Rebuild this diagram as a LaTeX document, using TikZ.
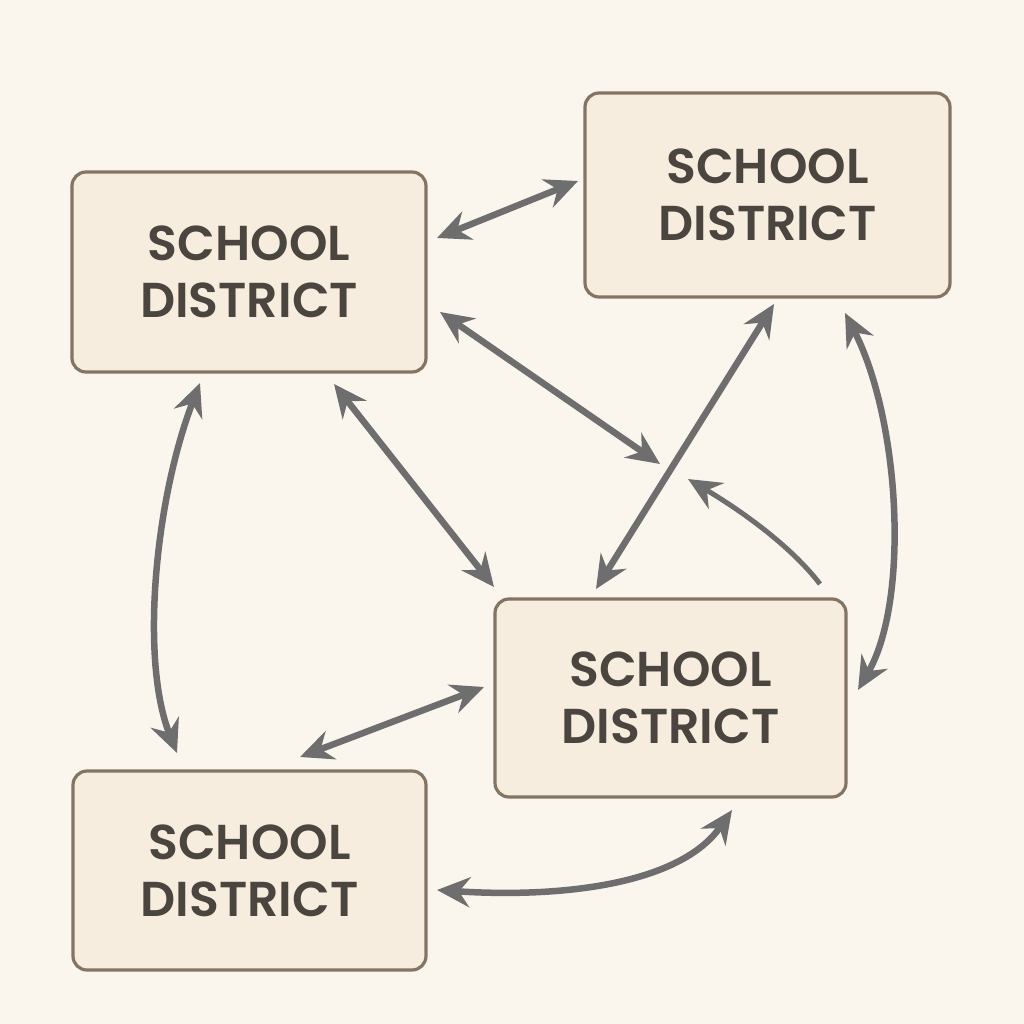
\documentclass[tikz,border=0pt]{standalone}
\usepackage{fontspec}
\newfontfamily\lab{Poppins}[UprightFont={* SemiBold}]
\usetikzlibrary{arrows.meta}
\definecolor{bgc}{HTML}{FAF6EE}
\definecolor{boxfill}{HTML}{F6EDDF}
\definecolor{boxline}{HTML}{847463}
\definecolor{txtc}{HTML}{4A453F}
\definecolor{arrowc}{HTML}{6E6E6E}
\tikzset{
  box/.style={draw=boxline, line width=3.2pt, fill=boxfill, rounded corners=14pt,
    align=center, text=txtc, font=\lab\fontsize{49}{57}\selectfont, inner sep=0pt},
  arr/.style={draw=arrowc, line width=6.5pt, {Stealth[length=33pt,width=30pt,inset=11pt]}-{Stealth[length=33pt,width=30pt,inset=11pt]}},
  arrone/.style={draw=arrowc, line width=5pt, -{Stealth[length=33pt,width=30pt,inset=11pt]}}
}
\begin{document}
\begin{tikzpicture}[x=1pt,y=-1pt]
\fill[bgc] (0,0) rectangle (1024,1024);
\useasboundingbox (0,0) rectangle (1024,1024);
% boxes
\node[box, minimum width=354pt, minimum height=200pt] (A) at (249,272) {SCHOOL\\DISTRICT};
\node[box, minimum width=365pt, minimum height=204pt] (B) at (767.5,195) {SCHOOL\\DISTRICT};
\node[box, minimum width=351pt, minimum height=198pt] (C) at (670.5,698) {SCHOOL\\DISTRICT};
\node[box, minimum width=353pt, minimum height=199pt] (D) at (249.5,870.5) {SCHOOL\\DISTRICT};
% endpoints
\coordinate (a1) at (437,238); \coordinate (b1) at (578,181);
\coordinate (a2) at (440,312); \coordinate (m2) at (660,464);
\coordinate (a3) at (334,384); \coordinate (c3) at (494,587);
\coordinate (a4) at (200,383); \coordinate (d4) at (177,753);
\coordinate (b5) at (774,304); \coordinate (c5) at (596,589);
\coordinate (t6) at (820,584); \coordinate (h6) at (688,479);
\coordinate (b7) at (845,313); \coordinate (c7) at (858,690);
\coordinate (d8) at (300,757); \coordinate (c8) at (484,687);
\coordinate (d9) at (437,890); \coordinate (c9) at (732,810);
% connectors
\draw[arr] (a1) -- (b1);
\draw[arr] (a2) -- (m2);
\draw[arr] (a3) -- (c3);
\draw[arr] (a4) .. controls (155,500) and (140,660) .. (d4);
\draw[arr] (b5) -- (c5);
\draw[arrone] (t6) .. controls (790,545) and (740,510) .. (h6);
\draw[arr] (b7) .. controls (900,420) and (910,600) .. (c7);
\draw[arr] (d8) -- (c8);
\draw[arr] (d9) .. controls (560,898) and (680,885) .. (c9);
\end{tikzpicture}
\end{document}
